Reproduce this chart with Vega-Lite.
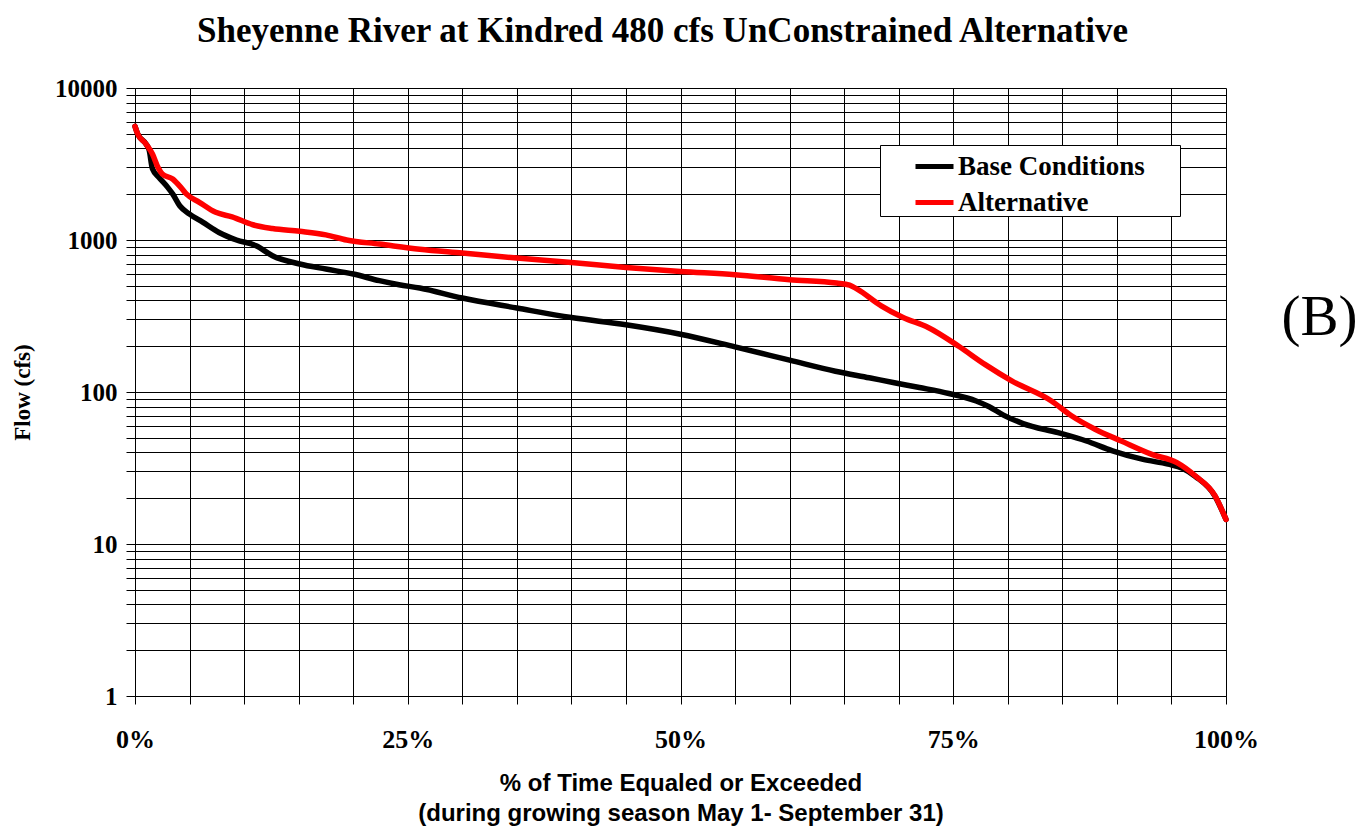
{
  "$schema": "https://vega.github.io/schema/vega-lite/v6.json",
  "autosize": "none",
  "width": 1091,
  "height": 608,
  "padding": {"left": 135, "top": 88, "right": 142, "bottom": 143},
  "background": "white",
  "config": {"view": {"stroke": null}},
  "title": {
    "text": "Sheyenne River at Kindred 480 cfs UnConstrained Alternative",
    "font": "Liberation Serif",
    "fontSize": 35,
    "fontWeight": "bold",
    "color": "#000000",
    "anchor": "middle",
    "frame": "group",
    "dx": -18,
    "dy": 37,
    "baseline": "alphabetic",
    "offset": 36
  },
  "data": {
    "values": [
      {"p": 0.000, "flow": 5600, "series": "Base Conditions"},
      {"p": 0.0024, "flow": 5000, "series": "Base Conditions"},
      {"p": 0.010, "flow": 4290, "series": "Base Conditions"},
      {"p": 0.013, "flow": 3900, "series": "Base Conditions"},
      {"p": 0.016, "flow": 2940, "series": "Base Conditions"},
      {"p": 0.022, "flow": 2580, "series": "Base Conditions"},
      {"p": 0.030, "flow": 2220, "series": "Base Conditions"},
      {"p": 0.0345, "flow": 2010, "series": "Base Conditions"},
      {"p": 0.041, "flow": 1680, "series": "Base Conditions"},
      {"p": 0.050, "flow": 1480, "series": "Base Conditions"},
      {"p": 0.062, "flow": 1310, "series": "Base Conditions"},
      {"p": 0.077, "flow": 1120, "series": "Base Conditions"},
      {"p": 0.093, "flow": 1000, "series": "Base Conditions"},
      {"p": 0.111, "flow": 917, "series": "Base Conditions"},
      {"p": 0.126, "flow": 788, "series": "Base Conditions"},
      {"p": 0.151, "flow": 695, "series": "Base Conditions"},
      {"p": 0.175, "flow": 644, "series": "Base Conditions"},
      {"p": 0.200, "flow": 597, "series": "Base Conditions"},
      {"p": 0.224, "flow": 540, "series": "Base Conditions"},
      {"p": 0.242, "flow": 508, "series": "Base Conditions"},
      {"p": 0.261, "flow": 483, "series": "Base Conditions"},
      {"p": 0.300, "flow": 415, "series": "Base Conditions"},
      {"p": 0.350, "flow": 357, "series": "Base Conditions"},
      {"p": 0.400, "flow": 309, "series": "Base Conditions"},
      {"p": 0.450, "flow": 277, "series": "Base Conditions"},
      {"p": 0.500, "flow": 240, "series": "Base Conditions"},
      {"p": 0.550, "flow": 198, "series": "Base Conditions"},
      {"p": 0.600, "flow": 162, "series": "Base Conditions"},
      {"p": 0.642, "flow": 137, "series": "Base Conditions"},
      {"p": 0.673, "flow": 124, "series": "Base Conditions"},
      {"p": 0.696, "flow": 115, "series": "Base Conditions"},
      {"p": 0.719, "flow": 107, "series": "Base Conditions"},
      {"p": 0.746, "flow": 97.7, "series": "Base Conditions"},
      {"p": 0.771, "flow": 87.3, "series": "Base Conditions"},
      {"p": 0.783, "flow": 80, "series": "Base Conditions"},
      {"p": 0.796, "flow": 70.5, "series": "Base Conditions"},
      {"p": 0.814, "flow": 62, "series": "Base Conditions"},
      {"p": 0.846, "flow": 54, "series": "Base Conditions"},
      {"p": 0.872, "flow": 47.6, "series": "Base Conditions"},
      {"p": 0.896, "flow": 41, "series": "Base Conditions"},
      {"p": 0.924, "flow": 36, "series": "Base Conditions"},
      {"p": 0.947, "flow": 33.5, "series": "Base Conditions"},
      {"p": 0.960, "flow": 31.5, "series": "Base Conditions"},
      {"p": 0.972, "flow": 27.8, "series": "Base Conditions"},
      {"p": 0.990, "flow": 20.6, "series": "Base Conditions"},
      {"p": 1.000, "flow": 14.5, "series": "Base Conditions"},
      {"p": 0.000, "flow": 5600, "series": "Alternative"},
      {"p": 0.0024, "flow": 5000, "series": "Alternative"},
      {"p": 0.010, "flow": 4290, "series": "Alternative"},
      {"p": 0.016, "flow": 3680, "series": "Alternative"},
      {"p": 0.021, "flow": 3010, "series": "Alternative"},
      {"p": 0.025, "flow": 2720, "series": "Alternative"},
      {"p": 0.0345, "flow": 2520, "series": "Alternative"},
      {"p": 0.042, "flow": 2220, "series": "Alternative"},
      {"p": 0.047, "flow": 2010, "series": "Alternative"},
      {"p": 0.059, "flow": 1770, "series": "Alternative"},
      {"p": 0.074, "flow": 1520, "series": "Alternative"},
      {"p": 0.089, "flow": 1420, "series": "Alternative"},
      {"p": 0.108, "flow": 1260, "series": "Alternative"},
      {"p": 0.126, "flow": 1190, "series": "Alternative"},
      {"p": 0.151, "flow": 1140, "series": "Alternative"},
      {"p": 0.175, "flow": 1080, "series": "Alternative"},
      {"p": 0.194, "flow": 1000, "series": "Alternative"},
      {"p": 0.224, "flow": 940, "series": "Alternative"},
      {"p": 0.261, "flow": 870, "series": "Alternative"},
      {"p": 0.300, "flow": 821, "series": "Alternative"},
      {"p": 0.350, "flow": 761, "series": "Alternative"},
      {"p": 0.400, "flow": 712, "series": "Alternative"},
      {"p": 0.450, "flow": 660, "series": "Alternative"},
      {"p": 0.500, "flow": 621, "series": "Alternative"},
      {"p": 0.550, "flow": 591, "series": "Alternative"},
      {"p": 0.600, "flow": 548, "series": "Alternative"},
      {"p": 0.643, "flow": 521, "series": "Alternative"},
      {"p": 0.655, "flow": 505, "series": "Alternative"},
      {"p": 0.662, "flow": 475, "series": "Alternative"},
      {"p": 0.684, "flow": 369, "series": "Alternative"},
      {"p": 0.704, "flow": 309, "series": "Alternative"},
      {"p": 0.727, "flow": 266, "series": "Alternative"},
      {"p": 0.755, "flow": 200, "series": "Alternative"},
      {"p": 0.779, "flow": 152, "series": "Alternative"},
      {"p": 0.804, "flow": 118, "series": "Alternative"},
      {"p": 0.840, "flow": 87.3, "series": "Alternative"},
      {"p": 0.858, "flow": 70, "series": "Alternative"},
      {"p": 0.880, "flow": 56.9, "series": "Alternative"},
      {"p": 0.904, "flow": 47.6, "series": "Alternative"},
      {"p": 0.932, "flow": 38.9, "series": "Alternative"},
      {"p": 0.955, "flow": 34.3, "series": "Alternative"},
      {"p": 0.972, "flow": 28, "series": "Alternative"},
      {"p": 0.990, "flow": 20.7, "series": "Alternative"},
      {"p": 1.000, "flow": 14.5, "series": "Alternative"}
    ]
  },
  "encoding": {
    "x": {
      "field": "p",
      "type": "quantitative",
      "scale": {"domain": [0, 1], "nice": false, "zero": false},
      "axis": {
        "orient": "bottom",
        "values": [0, 0.05, 0.1, 0.15, 0.2, 0.25, 0.3, 0.35, 0.4, 0.45, 0.5, 0.55, 0.6, 0.65, 0.7, 0.75, 0.8, 0.85, 0.9, 0.95, 1],
        "format": ".0%",
        "labelExpr": "abs(datum.value*4 - round(datum.value*4)) < 0.000001 ? datum.label : ''",
        "labelFont": "Liberation Serif",
        "labelFontSize": 26,
        "labelFontWeight": "bold",
        "labelColor": "#000000",
        "labelPadding": 22,
        "labelFlush": false,
        "labelOverlap": false,
        "tickSize": 8,
        "tickColor": "#000000",
        "domainColor": "#000000",
        "domainWidth": 1,
        "grid": true,
        "gridColor": "#000000",
        "gridWidth": 1,
        "gridOpacity": 1,
        "title": ["% of Time Equaled or Exceeded", "(during growing season May 1- September 31)"],
        "titleFont": "Liberation Sans",
        "titleFontSize": 24,
        "titleFontWeight": "bold",
        "titleColor": "#000000",
        "titleLineHeight": 30,
        "titlePadding": 19,
        "encode": {
          "ticks": {"update": {"strokeOpacity": {"signal": "abs(datum.value*4 - round(datum.value*4)) < 0.000001 ? 1 : 0"}}}
        }
      }
    }
  },
  "layer": [
    {
      "mark": {"type": "line", "strokeWidth": 5.5, "strokeJoin": "round", "strokeCap": "round", "interpolate": "monotone"},
      "encoding": {
        "y": {
          "field": "flow",
          "type": "quantitative",
          "scale": {"type": "log", "domain": [1, 10000], "nice": false},
          "axis": {
            "orient": "left",
            "values": [1, 2, 3, 4, 5, 6, 7, 8, 9, 10, 20, 30, 40, 50, 60, 70, 80, 90, 100, 200, 300, 400, 500, 600, 700, 800, 900, 1000, 2000, 3000, 4000, 5000, 6000, 7000, 8000, 9000, 10000],
            "format": "d",
            "labelExpr": "(datum.value == 1 || datum.value == 10 || datum.value == 100 || datum.value == 1000 || datum.value == 10000) ? datum.label : ''",
            "labelFont": "Liberation Serif",
            "labelFontSize": 25,
            "labelFontWeight": "bold",
            "labelColor": "#000000",
            "labelPadding": 9,
            "labelFlush": false,
            "labelOverlap": false,
            "tickSize": 9,
            "tickColor": "#000000",
            "domainColor": "#000000",
            "domainWidth": 1,
            "grid": true,
            "gridColor": "#000000",
            "gridWidth": 1,
            "gridOpacity": 1,
            "title": "Flow (cfs)",
            "titleFont": "Liberation Serif",
            "titleFontSize": 23,
            "titleFontWeight": "bold",
            "titleColor": "#000000",
            "titlePadding": 20,
            "encode": {
              "ticks": {"update": {"strokeOpacity": {"signal": "(datum.value == 1 || datum.value == 10 || datum.value == 100 || datum.value == 1000 || datum.value == 10000) ? 1 : 0"}}}
            }
          }
        },
        "color": {
          "field": "series",
          "type": "nominal",
          "sort": ["Base Conditions", "Alternative"],
          "scale": {"domain": ["Base Conditions", "Alternative"], "range": ["#000000", "#ff0000"]},
          "legend": {
            "title": ".",
            "titleOrient": "right",
            "titleColor": "#ffffff",
            "titleFontSize": 2,
            "titlePadding": 34,
            "orient": "none",
            "legendX": 745,
            "legendY": 57,
            "padding": 0,
            "rowPadding": 1,
            "symbolType": "stroke",
            "symbolSize": 1444,
            "symbolStrokeWidth": 5,
            "symbolOffset": 33,
            "labelOffset": 2,
            "labelFont": "Liberation Serif",
            "labelFontSize": 27,
            "labelFontWeight": "bold",
            "labelColor": "#000000",
            "labelLimit": 400,
            "strokeColor": "#000000",
            "fillColor": "#ffffff"
          }
        }
      }
    },
    {
      "mark": {"type": "line", "opacity": 0},
      "encoding": {
        "y": {
          "field": "flow",
          "type": "quantitative",
          "scale": {"type": "log", "domain": [1, 10000], "nice": false},
          "axis": {
            "orient": "right",
            "labels": false,
            "ticks": false,
            "domain": false,
            "grid": false,
            "title": "(B)",
            "titleFont": "Liberation Serif",
            "titleFontSize": 57,
            "titleFontWeight": "normal",
            "titleColor": "#000000",
            "titleAngle": 0,
            "titleAlign": "center",
            "titleBaseline": "middle",
            "titleX": 93,
            "titleY": 229
          }
        }
      }
    }
  ],
  "resolve": {"axis": {"y": "independent"}}
}
